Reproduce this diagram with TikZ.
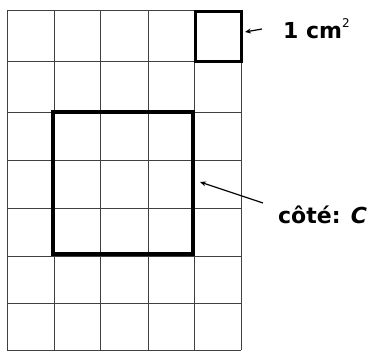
\documentclass[tikz,border=0pt]{standalone}
\usepackage{fontspec}
\setmainfont{DejaVu Sans}
\usetikzlibrary{arrows.meta}
\begin{document}
\begin{tikzpicture}[x=1pt,y=-1pt,
  gridline/.style={draw=black!75,line width=0.8pt},
  thicksq/.style={draw=black,line width=4pt,line cap=rect},
  smallsq/.style={draw=black,line width=3pt,line cap=rect},
  lbl/.style={font=\fontsize{22}{24}\selectfont\bfseries,inner sep=0pt,anchor=west},
  pointer/.style={draw=black,line width=1.2pt,-{Stealth[length=6pt,width=5pt]}}]
\useasboundingbox (0,0) rectangle (381,351);
% grid
\foreach \x in {7,54,100.5,148,194,241}
  \draw[gridline] (\x,10) -- (\x,350);
\foreach \y in {10,61,112,160,208,256,303,350}
  \draw[gridline] (7,\y) -- (241,\y);
% squares
\draw[smallsq] (195,11) rectangle (241,61);
\draw[thicksq] (53,112) rectangle (193,254);
% labels
\node[lbl] (unit) at (283,29) {1 cm\raisebox{0.5em}{\fontsize{12}{12}\selectfont\mdseries 2}};
\node[lbl] (side) at (278,215) {côté: \textit{C}};
\coordinate (tip1) at (245,32);
\coordinate (tail1) at (262,29);
\coordinate (tip2) at (200,182);
\coordinate (tail2) at (263,203);
\draw[pointer] (tail1) -- (tip1);
\draw[pointer] (tail2) -- (tip2);
\end{tikzpicture}
\end{document}
